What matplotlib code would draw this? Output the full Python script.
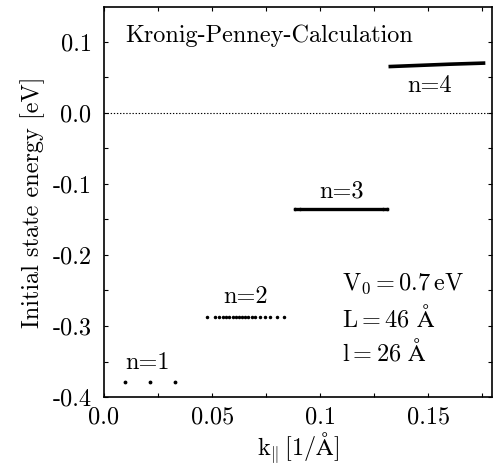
import matplotlib
matplotlib.use("Agg")
import matplotlib.pyplot as plt
from matplotlib.ticker import MultipleLocator

plt.rcParams["font.family"] = "serif"
plt.rcParams["font.serif"] = ["cmr10", "DejaVu Serif"]
plt.rcParams["mathtext.fontset"] = "cm"
plt.rcParams["axes.unicode_minus"] = False
plt.rcParams["axes.formatter.use_mathtext"] = False

# subband energies from the Kronig-Penney calculation
k1 = [0.0097, 0.0213, 0.0329]
e1 = [-0.379, -0.379, -0.379]

k2 = [0.0475, 0.0511, 0.0530, 0.0548, 0.0564, 0.0580, 0.0595, 0.0610, 0.0624,
      0.0638, 0.0652, 0.0667, 0.0683, 0.0700, 0.0720, 0.0745, 0.0769, 0.0800, 0.0830]
e2 = [-0.288] * len(k2)

k3 = [0.0884, 0.0905, 0.1290, 0.1310]
e3 = [-0.135, -0.135, -0.135, -0.135]

k4 = [0.1324, 0.1450, 0.1600, 0.1755]
e4 = [0.0652, 0.0667, 0.0685, 0.0700]

xticks = [0.0, 0.05, 0.1, 0.15]
xtick_labels = ["0.0", "0.05", "0.1", "0.15"]
yticks = [0.1, 0.0, -0.1, -0.2, -0.3, -0.4]
ytick_labels = ["0.1", "0.0", "-0.1", "-0.2", "-0.3", "-0.4"]

fs = 17.5
fig = plt.figure(figsize=(4.93, 4.66), dpi=100)
ax = fig.add_axes([0.211, 0.148, 0.786, 0.837])

ax.axhline(0.0, color="black", lw=0.8, ls=(0, (1.2, 1.6)))
ax.plot(k1, e1, ".", color="black", ms=3.5)
ax.plot(k2, e2, ".", color="black", ms=3.0)
ax.plot(k3, e3, "-", color="black", lw=2.4)
ax.plot(k3, e3, ".", color="black", ms=3.0)
ax.plot(k4, e4, "-", color="black", lw=2.6)

ax.text(0.0199, -0.352, "n=1", fontsize=fs, ha="center", va="center")
ax.text(0.0653, -0.259, "n=2", fontsize=fs, ha="center", va="center")
ax.text(0.1100, -0.111, "n=3", fontsize=fs, ha="center", va="center")
ax.text(0.1505, 0.038, "n=4", fontsize=fs, ha="center", va="center")
ax.text(0.0097, 0.108, "Kronig-Penney-Calculation", fontsize=fs, ha="left", va="center")
ax.text(0.1100, -0.240, r"$\mathrm{V_0 = 0.7\,eV}$", fontsize=fs, ha="left", va="center")
ax.text(0.1100, -0.289, r"$\mathrm{L = 46\ \AA}$", fontsize=fs, ha="left", va="center")
ax.text(0.1100, -0.337, r"$\mathrm{l = 26\ \AA}$", fontsize=fs, ha="left", va="center")

ax.set_xlim(0.0, 0.1792)
ax.set_ylim(-0.4, 0.149)
ax.set_xticks(xticks)
ax.set_xticklabels(xtick_labels, fontsize=fs)
ax.set_yticks(yticks)
ax.set_yticklabels(ytick_labels, fontsize=fs)
ax.xaxis.set_minor_locator(MultipleLocator(0.025))
ax.yaxis.set_minor_locator(MultipleLocator(0.05))
ax.tick_params(which="both", direction="in", top=True, right=True, length=3, width=0.8)
ax.tick_params(axis="y", pad=9)
ax.tick_params(axis="x", pad=7)
for s in ax.spines.values():
    s.set_linewidth(1.2)

ax.set_xlabel(r"$\mathrm{k}_{\Vert}\,\mathrm{[1/\AA]}$", fontsize=fs, labelpad=0.5)
ax.set_ylabel("Initial state energy [eV]", fontsize=fs, labelpad=5)

fig.savefig("out.png", dpi=100)
